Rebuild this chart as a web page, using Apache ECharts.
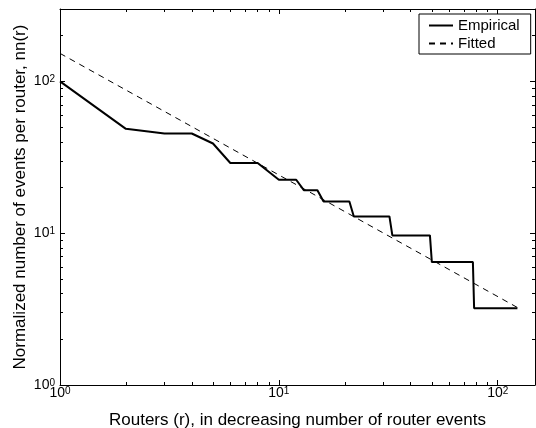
<!DOCTYPE html>
<html>
<head>
<meta charset="utf-8">
<style>
  html, body { margin: 0; padding: 0; background: #fff; }
  #chart { width: 536px; height: 428px; }
</style>
<script src="https://cdn.jsdelivr.net/npm/echarts@6/dist/echarts.min.js"></script>
</head>
<body>
<div id="chart"></div>
<script>
// ---- Data ----
const empiricalX = [1, 2, 3, 4, 5, 6, 8, 10, 12, 13, 15, 16, 21, 22, 32, 33, 49, 50, 77, 78, 123];
const empiricalY = [100, 48.7, 45.4, 45.4, 39, 29, 29, 22.5, 22.5, 19.2, 19.2, 16.2, 16.2, 12.9, 12.9, 9.67, 9.67, 6.45, 6.45, 3.2, 3.2];
const fittedX = [1, 123];
const fittedY = [153, 3.24];
const majorTicks = [1, 10, 100];
const minorTicks = [2, 3, 4, 5, 6, 7, 8, 9, 20, 30, 40, 50, 60, 70, 80, 90, 200];
const xRange = [1, 148];
const yRange = [1, 300];
const xTitle = 'Routers (r), in decreasing number of router events';
const yTitle = 'Normalized number of events per router, nn(r)';
const seriesNames = ['Empirical', 'Fitted'];

const FONT = '"Liberation Sans", Arial, Helvetica, sans-serif';

function pairs(xs, ys) { return xs.map((x, i) => [x, ys[i]]); }

const richLabel = {
  b: { fontSize: 14, lineHeight: 14, padding: [3, 0, 3, 0], fontFamily: FONT, color: '#000' },
  s: { fontSize: 10, lineHeight: 10, verticalAlign: 'top', fontFamily: FONT, color: '#000' }
};
function powFmt(v) {
  const e = Math.round(Math.log10(v));
  return '{b|10}{s|' + e + '}';
}

function makeAxis(position, range, major, opts) {
  const base = {
    type: 'log',
    logBase: 10,
    min: range[0],
    max: range[1],
    position: position,
    splitLine: { show: false },
    minorTick: { show: false },
    axisLine: { show: major, onZero: false, lineStyle: { color: '#000', width: 1 } },
    axisTick: {
      show: true,
      inside: true,
      length: major ? 5 : 3,
      customValues: major ? majorTicks : minorTicks,
      lineStyle: { color: '#000', width: 1 }
    },
    axisLabel: { show: false }
  };
  return Object.assign(base, opts || {});
}

const xAxes = [
  makeAxis('bottom', xRange, true, {
    name: xTitle,
    nameLocation: 'middle',
    nameGap: 27,
    nameMoveOverlap: false,
    nameTextStyle: { fontSize: 17, fontFamily: FONT, color: '#000' },
    axisLabel: {
      show: true, margin: 1, customValues: majorTicks,
      formatter: powFmt, rich: richLabel
    }
  }),
  makeAxis('bottom', xRange, false),
  makeAxis('top', xRange, true),
  makeAxis('top', xRange, false)
];
const yAxes = [
  makeAxis('left', yRange, true, {
    name: yTitle,
    nameLocation: 'middle',
    nameGap: 31,
    nameMoveOverlap: false,
    nameTextStyle: { fontSize: 17, fontFamily: FONT, color: '#000' },
    axisLabel: {
      show: true, margin: 5, customValues: majorTicks,
      formatter: powFmt, rich: richLabel
    }
  }),
  makeAxis('left', yRange, false),
  makeAxis('right', yRange, true),
  makeAxis('right', yRange, false)
];

const chart = echarts.init(document.getElementById('chart'), null, { renderer: 'canvas' });
chart.setOption({
  backgroundColor: '#fff',
  animation: false,
  textStyle: { fontFamily: FONT },
  grid: { left: 60, right: 1, top: 9, bottom: 43, containLabel: false, outerBoundsMode: 'none' },
  legend: {
    data: seriesNames,
    orient: 'vertical',
    left: 419,
    top: 14,
    padding: [4, 11, 3, 9],
    itemGap: 3,
    itemWidth: 24,
    itemHeight: 14,
    itemTextGap: 10,
    borderColor: '#000',
    borderWidth: 1,
    backgroundColor: '#fff',
    itemStyle: { opacity: 0, borderWidth: 0 },
    textStyle: { fontSize: 15, fontFamily: FONT, color: '#000' }
  },
  xAxis: xAxes,
  yAxis: yAxes,
  series: [
    {
      name: seriesNames[0],
      type: 'line',
      xAxisIndex: 0,
      yAxisIndex: 0,
      data: pairs(empiricalX, empiricalY),
      symbol: 'none',
      lineStyle: { color: '#000', width: 2 },
      itemStyle: { color: '#000' },
      z: 3
    },
    {
      name: seriesNames[1],
      type: 'line',
      xAxisIndex: 0,
      yAxisIndex: 0,
      data: pairs(fittedX, fittedY),
      symbol: 'none',
      lineStyle: { color: '#000', width: 1, type: [6, 5] },
      itemStyle: { color: '#000' },
      z: 2
    }
  ]
});
</script>
</body>
</html>
